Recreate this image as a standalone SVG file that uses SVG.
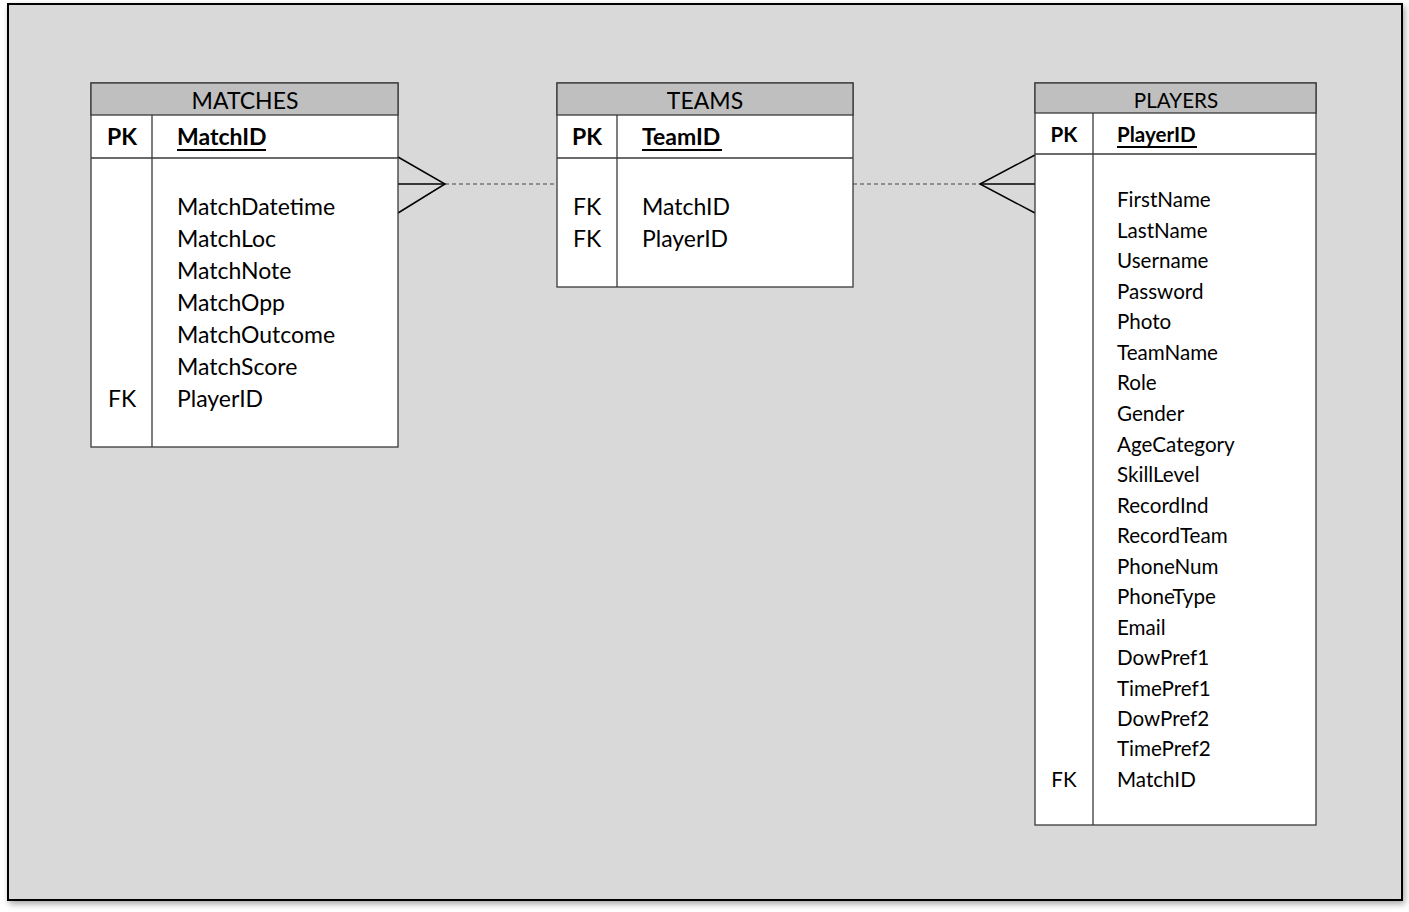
<svg xmlns="http://www.w3.org/2000/svg" width="1409" height="912" viewBox="0 0 1409 912">
  <defs>
    <filter id="shadow" x="-5%" y="-5%" width="110%" height="110%">
      <feGaussianBlur in="SourceAlpha" stdDeviation="3"/>
      <feOffset dx="2" dy="3" result="b"/>
      <feComponentTransfer><feFuncA type="linear" slope="0.35"/></feComponentTransfer>
      <feMerge><feMergeNode/><feMergeNode in="SourceGraphic"/></feMerge>
    </filter>
  </defs>
  <style>
    .frame { fill: #d9d9d9; stroke: #000; stroke-width: 2; }
    .box { fill: #fff; stroke: #3a3a3a; stroke-width: 1.3; }
    .head { fill: #bfbfbf; stroke: #3a3a3a; stroke-width: 1.3; }
    .rule { stroke: #3a3a3a; stroke-width: 1.3; }
    .ul { stroke: #000; stroke-width: 2; }
    text { font-family: Lato, "Open Sans", "Liberation Sans", sans-serif; fill: #000; }
    .t { font-size: 23px; }
    .s { font-size: 20.6px; }
    .b { font-weight: bold; }
    .c { text-anchor: middle; }
    .dash { stroke: #444; stroke-width: 1.2; stroke-dasharray: 4 3; fill: none; }
    .crow { stroke: #000; stroke-width: 1.5; fill: none; }
  </style>

  <rect class="frame" x="8" y="4" width="1394" height="896" filter="url(#shadow)"/>

  <!-- relationships -->
  <g id="connectors">
    <line class="dash" x1="445" y1="184" x2="557" y2="184"/>
    <line class="dash" x1="853" y1="184" x2="980" y2="184"/>
    <polyline class="crow" points="398,157 445,184 398,213"/>
    <line class="crow" x1="398" y1="184" x2="445" y2="184"/>
    <polyline class="crow" points="1035,155 980,184 1035,213"/>
    <line class="crow" x1="980" y1="184" x2="1035" y2="184"/>
  </g>

  <!-- MATCHES entity -->
  <g id="matches">
    <rect class="box" x="91" y="83" width="307" height="364"/>
    <rect class="head" x="91" y="83" width="307" height="32"/>
    <line class="rule" x1="91" y1="158" x2="398" y2="158"/>
    <line class="rule" x1="152" y1="115" x2="152" y2="447"/>
    <text class="t c" x="245" y="109">MATCHES</text>
    <text class="t b c" x="122" y="145">PK</text>
    <text class="t b" x="177" y="145">MatchID</text>
    <line class="ul" x1="177" y1="150" x2="266" y2="150"/>
    <text class="t" x="177" y="215">MatchDatetime</text>
    <text class="t" x="177" y="247">MatchLoc</text>
    <text class="t" x="177" y="279">MatchNote</text>
    <text class="t" x="177" y="311">MatchOpp</text>
    <text class="t" x="177" y="343">MatchOutcome</text>
    <text class="t" x="177" y="375">MatchScore</text>
    <text class="t c" x="122" y="407">FK</text>
    <text class="t" x="177" y="407">PlayerID</text>
  </g>

  <!-- TEAMS entity -->
  <g id="teams">
    <rect class="box" x="557" y="83" width="296" height="204"/>
    <rect class="head" x="557" y="83" width="296" height="32"/>
    <line class="rule" x1="557" y1="158" x2="853" y2="158"/>
    <line class="rule" x1="617" y1="115" x2="617" y2="287"/>
    <text class="t c" x="705" y="109">TEAMS</text>
    <text class="t b c" x="587" y="145">PK</text>
    <text class="t b" x="642" y="145">TeamID</text>
    <line class="ul" x1="642" y1="150" x2="722" y2="150"/>
    <text class="t c" x="587" y="215">FK</text>
    <text class="t" x="642" y="215">MatchID</text>
    <text class="t c" x="587" y="247">FK</text>
    <text class="t" x="642" y="247">PlayerID</text>
  </g>

  <!-- PLAYERS entity -->
  <g id="players">
    <rect class="box" x="1035" y="83" width="281" height="742"/>
    <rect class="head" x="1035" y="83" width="281" height="30"/>
    <line class="rule" x1="1035" y1="154" x2="1316" y2="154"/>
    <line class="rule" x1="1093" y1="113" x2="1093" y2="825"/>
    <text class="s c" x="1176" y="108">PLAYERS</text>
    <text class="s b c" x="1064" y="142">PK</text>
    <text class="s b" x="1117" y="142">PlayerID</text>
    <line class="ul" x1="1117" y1="147" x2="1197" y2="147"/>
    <text class="s" x="1117" y="207">FirstName</text>
    <text class="s" x="1117" y="238">LastName</text>
    <text class="s" x="1117" y="268">Username</text>
    <text class="s" x="1117" y="299">Password</text>
    <text class="s" x="1117" y="329">Photo</text>
    <text class="s" x="1117" y="360">TeamName</text>
    <text class="s" x="1117" y="390">Role</text>
    <text class="s" x="1117" y="421">Gender</text>
    <text class="s" x="1117" y="452">AgeCategory</text>
    <text class="s" x="1117" y="482">SkillLevel</text>
    <text class="s" x="1117" y="513">RecordInd</text>
    <text class="s" x="1117" y="543">RecordTeam</text>
    <text class="s" x="1117" y="574">PhoneNum</text>
    <text class="s" x="1117" y="604">PhoneType</text>
    <text class="s" x="1117" y="635">Email</text>
    <text class="s" x="1117" y="665">DowPref1</text>
    <text class="s" x="1117" y="696">TimePref1</text>
    <text class="s" x="1117" y="726">DowPref2</text>
    <text class="s" x="1117" y="756">TimePref2</text>
    <text class="s c" x="1064" y="787">FK</text>
    <text class="s" x="1117" y="787">MatchID</text>
  </g>
</svg>
